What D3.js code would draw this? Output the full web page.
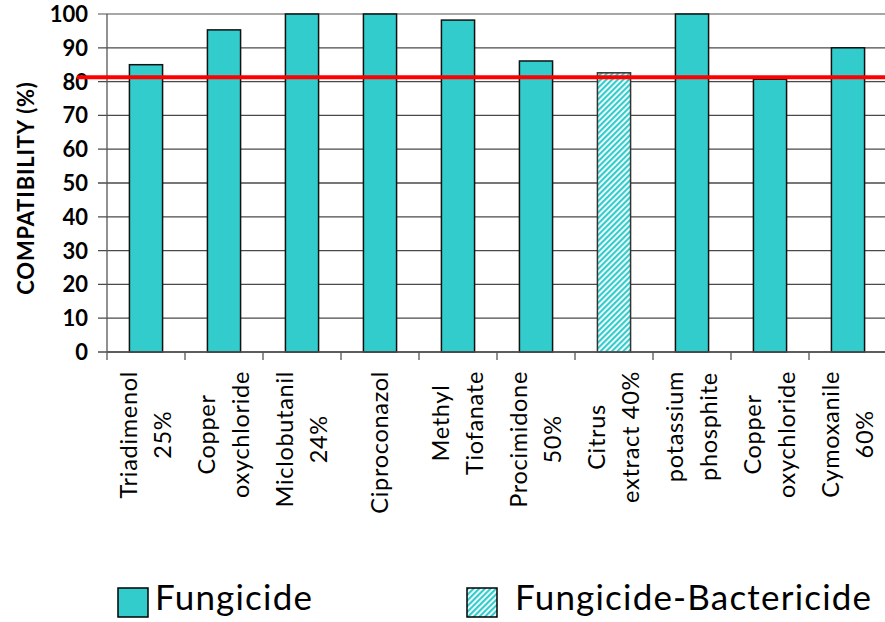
<!DOCTYPE html>
<html>
<head>
<meta charset="utf-8">
<script src="https://cdn.jsdelivr.net/npm/d3@7"></script>
<style>
  html, body { margin: 0; padding: 0; background: #fff; }
  svg { display: block; }
</style>
</head>
<body>
<svg id="chart" width="885" height="622"></svg>
<script>
// Product names (each entry is one wrapped label, one string per line)
const categories = [
  ["Triadimenol", "25%"],
  ["Copper", "oxychloride"],
  ["Miclobutanil", "24%"],
  ["Ciproconazol"],
  ["Methyl", "Tiofanate"],
  ["Procimidone", "50%"],
  ["Citrus", "extract 40%"],
  ["potassium", "phosphite"],
  ["Copper", "oxychloride"],
  ["Cymoxanile", "60%"]
];
// Compatibility (%) per product
const values = [85, 95.3, 100, 100, 98.2, 86.1, 82.6, 100, 80.7, 90];
// Product type per product
const types = ["Fungicide", "Fungicide", "Fungicide", "Fungicide", "Fungicide",
               "Fungicide", "Fungicide-Bactericide", "Fungicide", "Fungicide", "Fungicide"];
const legendTypes = ["Fungicide", "Fungicide-Bactericide"];
const yTicks = [0, 10, 20, 30, 40, 50, 60, 70, 80, 90, 100];
const threshold = 81.3;

const svg = d3.select("#chart");
const teal = "#33CCCC";

// Diagonal hatch for the fungicide-bactericide product
const defs = svg.append("defs");
const pat = defs.append("pattern")
  .attr("id", "hatch")
  .attr("patternUnits", "userSpaceOnUse")
  .attr("width", 4).attr("height", 4)
  .attr("patternTransform", "rotate(45)");
pat.append("rect").attr("width", 4).attr("height", 4).attr("fill", "#fff");
pat.append("rect").attr("width", 2.2).attr("height", 4).attr("fill", teal);

const fillFor = t => t === "Fungicide" ? teal : "url(#hatch)";

const x = d3.scaleBand().domain(d3.range(categories.length)).range([107, 887]).padding(0);
const y = d3.scaleLinear().domain([0, 100]).range([352, 14]);

// Horizontal gridlines with outward ticks
svg.append("g").selectAll("line").data(yTicks).join("line")
  .attr("x1", 98).attr("x2", 885)
  .attr("y1", d => y(d)).attr("y2", d => y(d))
  .attr("stroke", d => d === 100 ? "#8a8a8a" : "#4a4a4a")
  .attr("stroke-width", 1.3);

// Y axis tick labels
svg.append("g").selectAll("text").data(yTicks).join("text")
  .attr("x", 88).attr("y", d => y(d))
  .attr("dy", "0.36em")
  .attr("text-anchor", "end")
  .attr("font-family", "Lato")
  .attr("font-weight", "bold")
  .attr("font-size", 22)
  .attr("fill", "#000")
  .text(d => d);

// Y axis title
svg.append("text")
  .attr("transform", "translate(34,188) rotate(-90)")
  .attr("text-anchor", "middle")
  .attr("font-family", "Lato")
  .attr("font-weight", "bold")
  .attr("font-size", 22)
  .attr("letter-spacing", 0.8)
  .attr("fill", "#000")
  .text("COMPATIBILITY (%)");

// Bars
const barW = x.bandwidth() * 0.425;
svg.append("g").selectAll("rect").data(values).join("rect")
  .attr("x", (d, i) => x(i) + (x.bandwidth() - barW) / 2)
  .attr("y", d => y(d))
  .attr("width", barW)
  .attr("height", d => y(0) - y(d))
  .attr("fill", (d, i) => fillFor(types[i]))
  .attr("stroke", (d, i) => types[i] === "Fungicide" ? "#111" : "#333")
  .attr("stroke-width", 1.5);

// Axes lines
svg.append("line").attr("x1", 107).attr("x2", 107).attr("y1", 14).attr("y2", 352)
  .attr("stroke", "#555").attr("stroke-width", 1.3);
svg.append("line").attr("x1", 107).attr("x2", 885).attr("y1", 352).attr("y2", 352)
  .attr("stroke", "#555").attr("stroke-width", 1.5);
svg.append("g").selectAll("line").data(d3.range(categories.length + 1)).join("line")
  .attr("x1", i => 107 + i * x.step()).attr("x2", i => 107 + i * x.step())
  .attr("y1", 352).attr("y2", 360)
  .attr("stroke", "#555").attr("stroke-width", 1.3);

// Threshold line
svg.append("line")
  .attr("x1", 77).attr("x2", 885)
  .attr("y1", y(threshold)).attr("y2", y(threshold))
  .attr("stroke", "#ff0000").attr("stroke-width", 4);

// Category labels, rotated, lines centred within the wrapped block
const lineGap = 34;
const labelTop = 371;
const lab = svg.append("g").selectAll("g").data(categories).join("g");
lab.each(function(lines, i) {
  const g = d3.select(this);
  const cx = x(i) + x.bandwidth() / 2;
  const n = lines.length;
  const texts = lines.map((s, k) => g.append("text")
    .attr("font-family", "Lato")
    .attr("font-size", 23.5)
    .attr("letter-spacing", 0.7)
    .attr("fill", "#000")
    .attr("text-anchor", "middle")
    .text(s));
  const maxW = d3.max(texts, t => t.node().getComputedTextLength());
  const cy = labelTop + maxW / 2;
  texts.forEach((t, k) => {
    const lx = cx + (k - (n - 1) / 2) * lineGap;
    t.attr("transform", `translate(${lx + 8},${cy}) rotate(-90)`);
  });
});

// Legend
const legendX = [118, 467];
const lg = svg.append("g").selectAll("g").data(legendTypes).join("g")
  .attr("transform", (d, i) => `translate(${legendX[i]},588)`);
lg.append("rect")
  .attr("width", 30).attr("height", 29)
  .attr("fill", d => fillFor(d))
  .attr("stroke", "#000").attr("stroke-width", 1.5);
lg.append("text")
  .attr("x", d => d === "Fungicide" ? 37 : 48)
  .attr("y", 22)
  .attr("font-family", "Lato")
  .attr("font-size", 35)
  .attr("letter-spacing", 1.2)
  .attr("fill", "#000")
  .text(d => d);
</script>
</body>
</html>
